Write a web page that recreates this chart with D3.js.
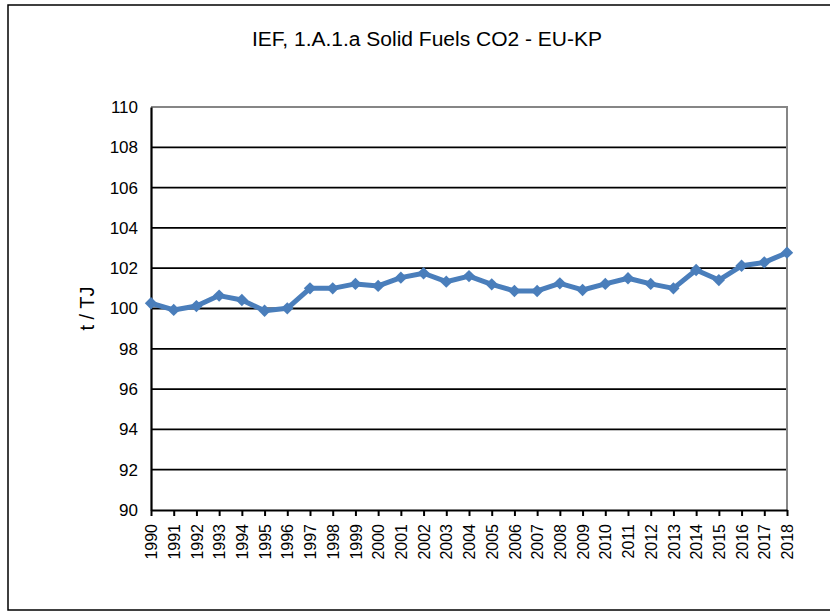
<!DOCTYPE html>
<html>
<head>
<meta charset="utf-8">
<script src="https://cdn.jsdelivr.net/npm/d3@7"></script>
<style>
  body { margin: 0; background: #fff; }
  text { font-family: "Liberation Sans", Arial, sans-serif; fill: #000; }
</style>
</head>
<body>
<div id="container"></div>
<script>
const years = ['1990', '1991', '1992', '1993', '1994', '1995', '1996', '1997', '1998', '1999',
  '2000', '2001', '2002', '2003', '2004', '2005', '2006', '2007', '2008', '2009',
  '2010', '2011', '2012', '2013', '2014', '2015', '2016', '2017', '2018'];
const ief = [100.26, 99.93, 100.12, 100.64, 100.42, 99.89, 100.01, 101.0, 101.0, 101.22,
  101.12, 101.53, 101.75, 101.33, 101.61, 101.2, 100.87, 100.87, 101.25, 100.92,
  101.22, 101.5, 101.22, 101.0, 101.91, 101.41, 102.12, 102.29, 102.77];
const yTicks = [90, 92, 94, 96, 98, 100, 102, 104, 106, 108, 110];
const title = 'IEF,  1.A.1.a Solid Fuels CO2 - EU-KP';
const yTitle = 't / TJ';

const W = 830, H = 612;
const plot = { left: 151, right: 787, top: 107, bottom: 510 };

const svg = d3.select('#container')
  .append('svg')
  .attr('width', W)
  .attr('height', H);

// outer chart frame (right edge runs past the window)
svg.append('rect')
  .attr('x', 8).attr('y', 5)
  .attr('width', 840).attr('height', 605)
  .attr('fill', '#fff')
  .attr('stroke', '#000')
  .attr('stroke-width', 1.5);

const x = d3.scalePoint()
  .domain(years)
  .range([plot.left, plot.right]);

const y = d3.scaleLinear()
  .domain([90, 110])
  .range([plot.bottom, plot.top]);

// title
svg.append('text')
  .attr('x', 427)
  .attr('y', 46)
  .attr('text-anchor', 'middle')
  .attr('font-size', 20)
  .attr('textLength', 350)
  .attr('lengthAdjust', 'spacingAndGlyphs')
  .text(title);

// gridlines
svg.append('g')
  .selectAll('line')
  .data(yTicks.filter(d => d > 90 && d < 110))
  .enter()
  .append('line')
  .attr('x1', plot.left).attr('x2', plot.right)
  .attr('y1', d => y(d)).attr('y2', d => y(d))
  .attr('stroke', '#000')
  .attr('stroke-width', 1.8);

// top and right border of plot area
svg.append('path')
  .attr('d', `M${plot.left},${y(110)}H${plot.right}V${plot.bottom}`)
  .attr('fill', 'none')
  .attr('stroke', '#868686')
  .attr('stroke-width', 2);

// y axis
const yAxis = d3.axisLeft(y)
  .tickValues(yTicks)
  .tickSize(0)
  .tickPadding(13);

const gy = svg.append('g')
  .attr('transform', `translate(${plot.left}, 0)`)
  .call(yAxis);
gy.select('.domain').attr('stroke', '#000').attr('stroke-width', 2.2);
gy.selectAll('text')
  .attr('font-size', 17)
  .attr('font-family', '"Liberation Sans", Arial, sans-serif');

// x axis
const xAxis = d3.axisBottom(x).tickSizeOuter(0).tickSizeInner(6).tickPadding(4);
const gx = svg.append('g')
  .attr('transform', `translate(0, ${plot.bottom})`)
  .call(xAxis);
gx.select('.domain').attr('stroke', '#000').attr('stroke-width', 2.2);
gx.selectAll('.tick line').attr('stroke', '#000').attr('stroke-width', 2);
gx.selectAll('text')
  .attr('font-size', 16)
  .attr('font-family', '"Liberation Sans", Arial, sans-serif')
  .attr('text-anchor', 'end')
  .attr('transform', 'translate(0, 5) rotate(-90)')
  .attr('x', -9)
  .attr('y', 0)
  .attr('dy', '0.35em');

// y axis title
svg.append('text')
  .attr('transform', `translate(94, ${(plot.top + plot.bottom) / 2}) rotate(-90)`)
  .attr('text-anchor', 'middle')
  .attr('font-size', 20)
  .text(yTitle);

// series
const points = years.map((yr, i) => ({ year: yr, value: ief[i] }));

const line = d3.line()
  .x(d => x(d.year))
  .y(d => y(d.value));

svg.append('path')
  .datum(points)
  .attr('d', line)
  .attr('fill', 'none')
  .attr('stroke', '#4a7ebb')
  .attr('stroke-width', 5)
  .attr('stroke-linejoin', 'round');

const marker = d3.symbol().type(d3.symbolSquare).size(76);
svg.append('g')
  .selectAll('path')
  .data(points)
  .enter()
  .append('path')
  .attr('d', marker)
  .attr('transform', d => `translate(${x(d.year)}, ${y(d.value)}) rotate(45)`)
  .attr('fill', '#4a7ebb');
</script>
</body>
</html>
